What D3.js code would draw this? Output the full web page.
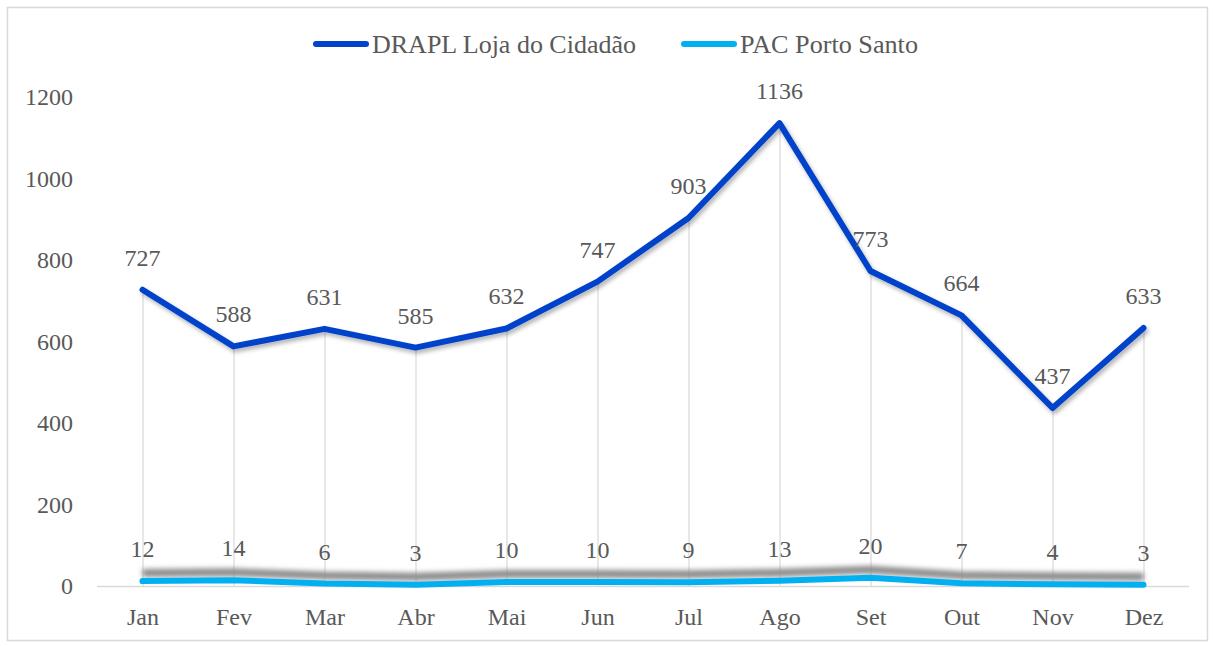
<!DOCTYPE html>
<html>
<head>
<meta charset="utf-8">
<script src="https://cdn.jsdelivr.net/npm/d3@7"></script>
<style>
  html, body { margin: 0; padding: 0; background: #fff; }
  svg { display: block; }
  text { font-family: "Liberation Serif", "DejaVu Serif", serif; fill: #595959; }
</style>
</head>
<body>
<svg id="chart" width="1214" height="646"></svg>
<script>
const months = ["Jan","Fev","Mar","Abr","Mai","Jun","Jul","Ago","Set","Out","Nov","Dez"];
const drapl = [727,588,631,585,632,747,903,1136,773,664,437,633];
const pac = [12,14,6,3,10,10,9,13,20,7,4,3];
const yTicks = [0,200,400,600,800,1000,1200];
const seriesNames = ["DRAPL Loja do Cidadão","PAC Porto Santo"];
const seriesColors = ["#0343C9","#00B0F0"];

const svg = d3.select("#chart");
const plotL = 97, plotR = 1189, plotT = 97, plotB = 586;

const defs = svg.append("defs");
const f1 = defs.append("filter").attr("id","shBlue").attr("x","-10%").attr("y","-10%").attr("width","120%").attr("height","130%");
f1.append("feDropShadow").attr("dx",2).attr("dy",3).attr("stdDeviation",2.2).attr("flood-color","#000").attr("flood-opacity",0.3);
const f2 = defs.append("filter").attr("id","blur").attr("x","-5%").attr("y","-300%").attr("width","110%").attr("height","700%");
f2.append("feGaussianBlur").attr("stdDeviation",2.5);

// chart border
svg.append("rect").attr("x",7.5).attr("y",7.5).attr("width",1200).attr("height",633)
  .attr("fill","#fff").attr("stroke","#d9d9d9").attr("stroke-width",1.5);

const x = d3.scalePoint().domain(months).range([plotL, plotR]).padding(0.5);
const y = d3.scaleLinear().domain([0,1200]).range([plotB, plotT]);

// x axis line
svg.append("line").attr("x1",plotL).attr("x2",plotR).attr("y1",y(0)+0.5).attr("y2",y(0)+0.5)
  .attr("stroke","#d9d9d9").attr("stroke-width",1.5);

// drop lines
svg.append("g").selectAll("line").data(months).join("line")
  .attr("x1",d=>x(d)+0.5).attr("x2",d=>x(d)+0.5)
  .attr("y1",(d,i)=>y(drapl[i])).attr("y2",y(0))
  .attr("stroke","#d9d9d9").attr("stroke-width",1.2);

// y axis labels
const yAxis = d3.axisLeft(y).tickValues(yTicks).tickFormat(d3.format("d")).tickSize(0).tickPadding(0);
const gy = svg.append("g").attr("transform",`translate(73,0)`).call(yAxis);
gy.select(".domain").remove();
gy.selectAll("text").attr("font-size",24).attr("font-family",null).style("fill","#595959");

// x axis labels
const xAxis = d3.axisBottom(x).tickSize(0).tickPadding(0);
const gx = svg.append("g").attr("transform",`translate(0,${plotB+22})`).call(xAxis);
gx.select(".domain").remove();
gx.selectAll("text").attr("font-size",24).attr("font-family",null).style("fill","#595959");

const line = d3.line().x((d,i)=>x(months[i])).y(d=>y(d));

// PAC shadow band (offset upward, blurred)
svg.append("path").datum(pac).attr("d",line).attr("fill","none")
  .attr("stroke","#8c8c8c").attr("stroke-width",8)
  .attr("transform","translate(0,-8)").attr("filter","url(#blur)");

// PAC line
svg.append("path").datum(pac).attr("d",line).attr("fill","none")
  .attr("stroke",seriesColors[1]).attr("stroke-width",6).attr("stroke-linejoin","round").attr("stroke-linecap","round");

// DRAPL line
svg.append("path").datum(drapl).attr("d",line).attr("fill","none")
  .attr("stroke",seriesColors[0]).attr("stroke-width",6).attr("stroke-linejoin","round").attr("stroke-linecap","round")
  .attr("filter","url(#shBlue)");

// data labels
function labels(data){
  svg.append("g").selectAll("text").data(data).join("text")
    .attr("x",(d,i)=>x(months[i])).attr("y",d=>y(d)-24)
    .attr("text-anchor","middle").attr("font-size",24).text(d=>d);
}
labels(drapl);
labels(pac);

// legend
const legendItems = [
  {x:313, name:seriesNames[0], c:seriesColors[0], w:264},
  {x:681, name:seriesNames[1], c:seriesColors[1], w:178}
];
const lg = svg.append("g");
legendItems.forEach(it=>{
  lg.append("line").attr("x1",it.x+3).attr("x2",it.x+53).attr("y1",44).attr("y2",44)
    .attr("stroke",it.c).attr("stroke-width",6).attr("stroke-linecap","round");
  lg.append("text").attr("x",it.x+59).attr("y",44).attr("dy","0.35em").attr("font-size",25)
    .attr("textLength",it.w).attr("lengthAdjust","spacingAndGlyphs").text(it.name);
});
</script>
</body>
</html>
